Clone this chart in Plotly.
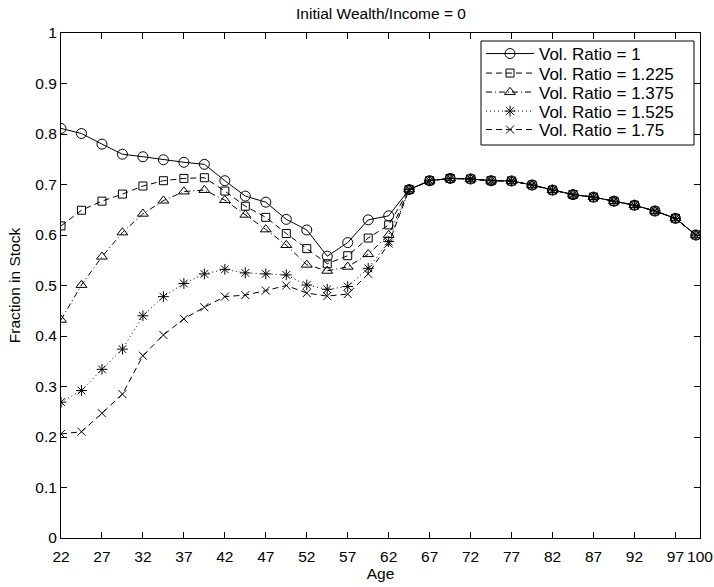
import plotly.graph_objects as go

ages = [22, 24.5, 27, 29.5, 32, 34.5, 37, 39.5, 42, 44.5, 47, 49.5, 52, 54.5, 57, 59.5,
        62, 64.5, 67, 69.5, 72, 74.5, 77, 79.5, 82, 84.5, 87, 89.5, 92, 94.5, 97, 99.5]

retire_tail = [0.690, 0.7075, 0.712, 0.711, 0.7075, 0.707, 0.699, 0.689, 0.680, 0.675,
               0.667, 0.659, 0.6475, 0.633, 0.600]

ratio_1 = [0.811, 0.801, 0.780, 0.760, 0.755, 0.749, 0.744, 0.740, 0.7075, 0.677, 0.665,
           0.631, 0.610, 0.558, 0.585, 0.630, 0.638] + retire_tail
ratio_1225 = [0.618, 0.649, 0.667, 0.681, 0.697, 0.7075, 0.712, 0.7135, 0.687, 0.657, 0.635,
              0.603, 0.573, 0.543, 0.559, 0.594, 0.620] + retire_tail
ratio_1375 = [0.432, 0.501, 0.557, 0.605, 0.642, 0.668, 0.686, 0.689, 0.669, 0.640, 0.611,
              0.580, 0.541, 0.529, 0.537, 0.562, 0.600] + retire_tail
ratio_1525 = [0.269, 0.292, 0.334, 0.374, 0.440, 0.478, 0.504, 0.523, 0.532, 0.525, 0.523,
              0.521, 0.501, 0.4925, 0.498, 0.534, 0.587] + retire_tail
ratio_175 = [0.206, 0.2105, 0.247, 0.285, 0.361, 0.402, 0.434, 0.457, 0.478, 0.481, 0.490,
             0.500, 0.485, 0.479, 0.483, 0.523, 0.583] + retire_tail

series_names = ["Vol. Ratio = 1", "Vol. Ratio = 1.225", "Vol. Ratio = 1.375",
                "Vol. Ratio = 1.525", "Vol. Ratio = 1.75"]
series_values = [ratio_1, ratio_1225, ratio_1375, ratio_1525, ratio_175]

x_ticks = [22, 27, 32, 37, 42, 47, 52, 57, 62, 67, 72, 77, 82, 87, 92, 97, 100]
y_ticks = [0, 0.1, 0.2, 0.3, 0.4, 0.5, 0.6, 0.7, 0.8, 0.9, 1]
y_tick_text = ["0", "0.1", "0.2", "0.3", "0.4", "0.5", "0.6", "0.7", "0.8", "0.9", "1"]

styles = [
    dict(symbol="circle-open", size=10, dash="solid"),
    dict(symbol="square-open", size=8, dash="6px,4px"),
    dict(symbol="triangle-up-open", size=9.5, dash="6px,3px,1px,3px"),
    dict(symbol="asterisk-open", size=9, dash="1px,3px"),
    dict(symbol="x-thin-open", size=8, dash="6px,4px"),
]

FONT = "Liberation Sans, Arial, Helvetica, sans-serif"
FS = 15.5
LEG_FS = 17

# plot area (pixels): x 61..700, y 33..538
W, H = 714, 587
ML, MR, MT, MB = 61, 14, 33, 49
PW, PH = W - ML - MR, H - MT - MB


def px_to_paper_x(px):
    return (px - ML) / PW


def px_to_paper_y(py):
    return (H - MB - py) / PH


legend_ids = ["legend", "legend2", "legend3", "legend4", "legend5"]
legend_row_px = [54, 73.5, 92.5, 111.5, 130]

fig = go.Figure()
for name, vals, st, lid in zip(series_names, series_values, styles, legend_ids):
    fig.add_trace(go.Scatter(
        x=ages, y=vals, name=name, mode="lines+markers", legend=lid,
        line=dict(color="black", width=1, dash=st["dash"]),
        marker=dict(symbol=st["symbol"], size=st["size"], color="black",
                    line=dict(color="black", width=1)),
    ))

axis_common = dict(
    showline=True, linecolor="black", linewidth=1, mirror="ticks",
    ticks="inside", ticklen=6, tickcolor="black", tickwidth=1,
    showgrid=False, zeroline=False, automargin=False,
    tickfont=dict(family=FONT, size=FS, color="black"),
)

layout_legends = {}
for lid, py in zip(legend_ids, legend_row_px):
    layout_legends[lid] = dict(
        x=px_to_paper_x(481), y=px_to_paper_y(py), xanchor="left", yanchor="middle",
        bgcolor="rgba(0,0,0,0)", borderwidth=0, itemwidth=48,
        font=dict(family=FONT, size=LEG_FS, color="black"),
    )

fig.update_layout(
    width=W, height=H,
    margin=dict(l=ML, r=MR, t=MT, b=MB),
    paper_bgcolor="white", plot_bgcolor="white",
    font=dict(family=FONT, size=FS, color="black"),
    title=dict(text="Initial Wealth/Income = 0", x=381 / W,
               xanchor="center", y=1 - 14 / H, yanchor="middle",
               font=dict(family=FONT, size=FS, color="black")),
    xaxis=dict(range=[22, 100], tickmode="array", tickvals=x_ticks,
               ticktext=[str(t) for t in x_ticks], ticklabelstandoff=4,
               title=dict(text="Age", font=dict(family=FONT, size=FS), standoff=0),
               **axis_common),
    yaxis=dict(range=[0, 1], tickmode="array", tickvals=y_ticks, ticktext=y_tick_text,
               title=dict(text="Fraction in Stock", font=dict(family=FONT, size=FS), standoff=10),
               **axis_common),
    showlegend=True,
    shapes=[dict(type="rect", xref="paper", yref="paper",
                 x0=px_to_paper_x(481), x1=px_to_paper_x(694),
                 y0=px_to_paper_y(145), y1=px_to_paper_y(41),
                 line=dict(color="black", width=1), fillcolor="white", layer="above")],
    **layout_legends,
)

fig.write_html("out.html", config={"displayModeBar": False},
               post_script="document.body.style.margin='0px';")
